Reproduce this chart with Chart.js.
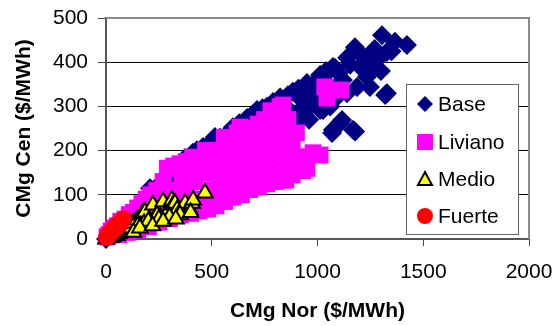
<!DOCTYPE html>
<html>
<head>
<meta charset="utf-8">
<script src="https://cdn.jsdelivr.net/npm/chart.js@4.4.0/dist/chart.umd.min.js"></script>
<style>
  html, body { margin: 0; padding: 0; background: #fff; }
  #wrap { width: 553px; height: 326px; }
</style>
</head>
<body>
<div id="wrap"><canvas id="myChart" width="553" height="326"></canvas></div>
<script>
// series labels
const seriesNames = ["Base", "Liviano", "Medio", "Fuerte"];

// [CMg Nor, CMg Cen] pairs
const basePts = [
  [0, 0], [20, 10], [50, 22], [80, 35], [120, 50], [150, 65], [180, 80], [208, 115], [241, 118],
  [260, 120], [300, 140], [330, 155], [374, 183], [411, 195], [430, 201], [459, 208], [492, 217],
  [515, 231], [539, 229], [577, 240], [600, 253], [630, 262], [650, 240], [667, 274], [690, 280],
  [700, 250], [714, 292], [740, 296], [761, 299], [790, 310], [800, 280], [823, 269], [823, 320],
  [850, 300], [860, 325], [884, 333], [903, 285], [910, 340], [927, 314], [950, 292], [950, 353],
  [964, 337], [979, 308], [1000, 330], [1000, 360], [1012, 292], [1012, 371], [1026, 292],
  [1026, 367], [1040, 380], [1050, 350], [1060, 300], [1073, 389], [1083, 387], [1092, 321],
  [1100, 375], [1120, 360], [1139, 330], [1140, 410], [1154, 394], [1177, 434], [1187, 344],
  [1200, 390], [1210, 415], [1234, 367], [1234, 376], [1234, 405], [1248, 344], [1260, 395],
  [1270, 430], [1281, 405], [1300, 380], [1305, 461], [1328, 423], [1328, 330], [1350, 425],
  [1366, 446], [1423, 439], [1069, 240], [1073, 247], [1106, 262], [1116, 269], [1168, 247],
  [1178, 243], [1320, 326], [960, 270], [900, 260], [870, 280]
];

const livianoPts = [
  [5, 5], [15, 10], [25, 18], [40, 25], [55, 30], [70, 40], [90, 45], [110, 55], [130, 60],
  [150, 70], [170, 80], [190, 90], [210, 100], [240, 110], [270, 130], [290, 160], [320, 165],
  [350, 170], [380, 175], [410, 185], [444, 179], [470, 200], [506, 149], [530, 190], [560, 200],
  [586, 217], [620, 240], [634, 253], [667, 156], [690, 250], [714, 201], [740, 240], [775, 262],
  [800, 230], [823, 156], [823, 299], [837, 303], [837, 133], [856, 231], [870, 163], [903, 186],
  [930, 155], [979, 195], [1012, 190], [1035, 344], [1111, 337], [1045, 319],
  [60, 10], [100, 15], [150, 20], [200, 28], [250, 38], [300, 46], [350, 54], [400, 58], [440, 64],
  [480, 68], [520, 75], [560, 85], [600, 95], [640, 100], [680, 112], [720, 118], [760, 125],
  [800, 130], [850, 134],
  [120, 30], [180, 45], [220, 60], [260, 70], [300, 90], [340, 110], [380, 120], [420, 130],
  [460, 150], [500, 110], [540, 125], [580, 140], [620, 150], [660, 130], [700, 145], [740, 160],
  [780, 180], [820, 200], [880, 210], [920, 160], [900, 240], [860, 270], [780, 290], [720, 260],
  [650, 200], [600, 180], [550, 160], [480, 170], [420, 150], [360, 140], [260, 100], [200, 75],
  [160, 60], [780, 140], [880, 145], [950, 160], [510, 200], [560, 230], [600, 215], [680, 225],
  [760, 210], [700, 175], [620, 190], [540, 100], [600, 115], [700, 130], [780, 155], [460, 90],
  [400, 90], [340, 75], [860, 180], [820, 260], [750, 270]
];

const medioPts = [
  [0, 0], [20, 3], [30, 5], [50, 8], [60, 12], [80, 15], [90, 20], [100, 22], [120, 25], [99, 36],
  [128, 36], [147, 43], [170, 54], [175, 59], [184, 61], [222, 77], [232, 48], [241, 54], [270, 84],
  [279, 54], [288, 59], [312, 88], [317, 77], [326, 81], [336, 66], [374, 77], [374, 81], [397, 66],
  [407, 81], [412, 88], [468, 104], [150, 30], [180, 35], [200, 40], [250, 45], [300, 50], [350, 55],
  [400, 60], [130, 15], [160, 25], [220, 30], [270, 40], [330, 45]
];

const fuertePts = [
  [0, 3], [5, 8], [10, 12], [15, 14], [20, 17], [25, 20], [30, 22], [35, 25], [40, 27], [45, 30],
  [50, 32], [55, 34], [60, 37], [65, 38], [70, 41], [75, 43], [80, 44], [85, 47], [10, 5], [20, 10],
  [30, 15], [40, 20], [50, 24], [60, 28], [5, 2], [15, 6], [70, 35]
];

const xTicks = [0, 500, 1000, 1500, 2000];
const yTicks = [0, 100, 200, 300, 400, 500];

const FONT = "'Liberation Sans', Arial, sans-serif";

const toXY = (pts) => pts.map((p) => ({ x: p[0], y: p[1] }));

const styles = [
  { pointStyle: "rectRot", radius: 10, bg: "#000080", border: "#000080", bw: 0 },
  { pointStyle: "rect", radius: 12, bg: "#FF00FF", border: "#FF00FF", bw: 0 },
  { pointStyle: "triangle", radius: 9, bg: "#FFFF00", border: "#000000", bw: 2 },
  { pointStyle: "circle", radius: 8, bg: "#FF0000", border: "#FF0000", bw: 0 },
];

const allPts = [basePts, livianoPts, medioPts, fuertePts];

const data = {
  datasets: seriesNames.map((name, i) => ({
    label: name,
    data: toXY(allPts[i]),
    pointStyle: styles[i].pointStyle,
    pointRadius: styles[i].radius,
    pointHoverRadius: styles[i].radius,
    backgroundColor: styles[i].bg,
    borderColor: styles[i].border,
    borderWidth: styles[i].bw,
    order: 3 - i,
    clip: false,
  })),
};

// grey frame on top and right of the plot
const frame = {
  id: "frame",
  beforeDatasetsDraw(chart) {
    const { ctx, chartArea: a } = chart;
    ctx.save();
    ctx.strokeStyle = "#8c8c8c";
    ctx.lineWidth = 2;
    ctx.beginPath();
    ctx.moveTo(a.left, a.top);
    ctx.lineTo(a.right, a.top);
    ctx.lineTo(a.right, a.bottom);
    ctx.stroke();
    ctx.restore();
  },
};

// boxed legend like the original
const boxLegend = {
  id: "boxLegend",
  afterDraw(chart) {
    const ctx = chart.ctx;
    const bx = 406, by = 84, bw = 112, bh = 150;
    ctx.save();
    ctx.fillStyle = "#fff";
    ctx.fillRect(bx, by, bw, bh);
    ctx.strokeStyle = "#666";
    ctx.lineWidth = 1;
    ctx.strokeRect(bx + 0.5, by + 0.5, bw, bh);
    const rows = [104, 142, 179, 216];
    seriesNames.forEach((name, i) => {
      const s = styles[i];
      const cx = 425, cy = rows[i];
      ctx.fillStyle = s.bg;
      ctx.strokeStyle = s.border;
      ctx.beginPath();
      if (s.pointStyle === "rectRot") {
        ctx.moveTo(cx, cy - 8); ctx.lineTo(cx + 8, cy); ctx.lineTo(cx, cy + 8); ctx.lineTo(cx - 8, cy);
        ctx.closePath(); ctx.fill();
      } else if (s.pointStyle === "rect") {
        ctx.rect(cx - 8, cy - 8, 16, 16); ctx.fill();
      } else if (s.pointStyle === "triangle") {
        ctx.moveTo(cx, cy - 7); ctx.lineTo(cx + 7, cy + 6); ctx.lineTo(cx - 7, cy + 6);
        ctx.closePath(); ctx.fill(); ctx.lineWidth = 2; ctx.stroke();
      } else {
        ctx.arc(cx, cy, 8, 0, Math.PI * 2); ctx.fill();
      }
      ctx.fillStyle = "#000";
      ctx.font = "21px " + FONT;
      ctx.textBaseline = "middle";
      ctx.textAlign = "left";
      ctx.fillText(name, 438, cy + 1);
    });
    ctx.restore();
  },
};

const myChart = new Chart(document.getElementById("myChart"), {
  type: "scatter",
  data: data,
  plugins: [frame, boxLegend],
  options: {
    responsive: false,
    animation: false,
    events: [],
    layout: { padding: { top: 18, right: 24, left: 0, bottom: 0 } },
    plugins: { legend: { display: false }, tooltip: { enabled: false } },
    scales: {
      x: {
        type: "linear",
        min: 0,
        max: 2000,
        afterBuildTicks: (scale) => { scale.ticks = xTicks.map((v) => ({ value: v })); },
        afterFit: (scale) => {
          scale.height = 87;
          scale.paddingLeft = 0;
          scale.paddingRight = 0;
        },
        ticks: { color: "#000", font: { family: FONT, size: 21 }, padding: 14, maxRotation: 0, callback: (v) => String(v) },
        grid: { drawOnChartArea: false, drawTicks: true, tickLength: 7, tickColor: "#444", lineWidth: 1 },
        border: { color: "#555", width: 2 },
        title: {
          display: true,
          text: "CMg Nor ($/MWh)",
          color: "#000",
          font: { family: FONT, size: 21, weight: "bold" },
          padding: { top: 0, bottom: 2 },
        },
      },
      y: {
        type: "linear",
        min: 0,
        max: 500,
        afterBuildTicks: (scale) => { scale.ticks = yTicks.map((v) => ({ value: v })); },
        afterFit: (scale) => {
          scale.width = 106;
          scale.paddingTop = 0;
          scale.paddingBottom = 0;
        },
        ticks: { color: "#000", font: { family: FONT, size: 21 }, padding: 10, callback: (v) => String(v) },
        grid: {
          color: (c) => (c.tick && (c.tick.value === 0 || c.tick.value === 500) ? "rgba(0,0,0,0)" : "#000"),
          tickColor: "#444",
          tickLength: 8,
          lineWidth: 1,
        },
        border: { color: "#555", width: 2 },
        title: {
          display: true,
          text: "CMg Cen ($/MWh)",
          color: "#000",
          font: { family: FONT, size: 21, weight: "bold" },
          padding: { top: 12, bottom: 0 },
        },
      },
    },
  },
});
</script>
</body>
</html>
